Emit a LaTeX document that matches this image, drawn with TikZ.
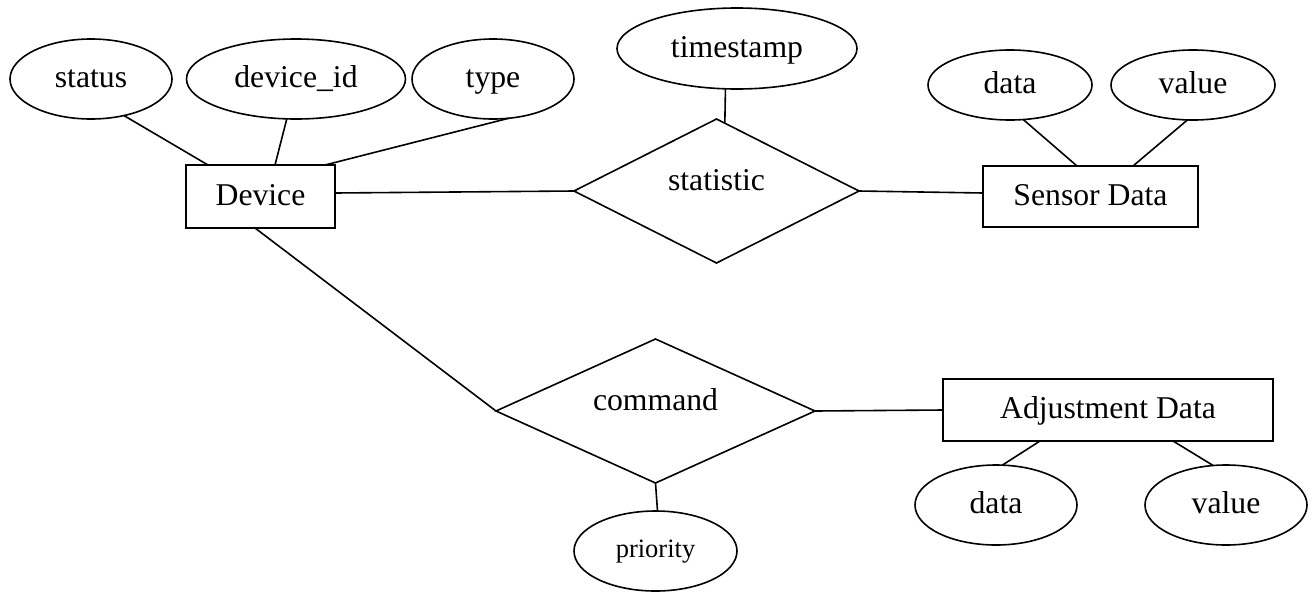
\documentclass[tikz,border=0pt]{standalone}
\usepackage{fontspec}
\setmainfont{Liberation Serif}
\usetikzlibrary{shapes.geometric}
\begin{document}
\begin{tikzpicture}[x=1pt,y=-1pt,
  every node/.style={font=\fontsize{31.7}{38}\selectfont, text height=22pt, text depth=5pt, inner sep=0pt, outer sep=0pt},
  attr/.style={draw, ellipse, line width=1.6pt},
  entity/.style={draw, rectangle, line width=1.6pt},
  rel/.style={draw, diamond, line width=1.6pt},
  link/.style={line width=1.6pt}]
\useasboundingbox (0,0) rectangle (1316,592);

\node[attr, minimum width=162pt, minimum height=80pt] (status) at (91,79) {status};
\node[attr, minimum width=219pt, minimum height=80pt] (devid) at (296,79) {device\_id};
\node[attr, minimum width=162pt, minimum height=80pt] (type) at (493,79) {type};
\node[attr, minimum width=240pt, minimum height=81pt] (ts) at (737,48.5) {timestamp};
\node[attr, minimum width=164pt, minimum height=70pt] (sdata) at (1010,85) {data};
\node[attr, minimum width=164pt, minimum height=70pt] (svalue) at (1193,85) {value};
\node[entity, minimum width=149pt, minimum height=63pt] (device) at (260.5,196.5) {Device};
\node[rel, minimum width=285pt, minimum height=144pt, label={[yshift=9.5pt]center:statistic}] (stat) at (716.5,191) {};
\node[entity, minimum width=215pt, minimum height=61pt] (sensor) at (1090.5,196.5) {Sensor Data};
\node[rel, minimum width=319pt, minimum height=144pt, label={[yshift=9.5pt]center:command}] (cmd) at (655.5,411) {};
\node[entity, minimum width=330pt, minimum height=62pt] (adj) at (1108,410) {Adjustment Data};
\node[attr, minimum width=162pt, minimum height=80pt] (adata) at (996,505) {data};
\node[attr, minimum width=162pt, minimum height=80pt] (avalue) at (1226,505) {value};
\node[attr, minimum width=163pt, minimum height=80pt, font=\fontsize{26.5}{32}\selectfont, text height=18.5pt, text depth=6.5pt] (prio) at (655.5,551) {priority};

\draw[link] (status.-48) -- ([xshift=22pt]device.north west);
\draw[link] (devid.-103.7) -- ([xshift=89pt]device.north west);
\draw[link] (type.-68.2) -- ([xshift=139pt]device.north west);
\draw[link] ([yshift=3.5pt]device.east) -- (stat.west);
\draw[link] (ts.-106.5) -- (stat.83);
\draw[link] (stat.east) -- ([yshift=3.5pt]sensor.west);
\draw[link] (sdata.-69.6) -- ([xshift=94pt]sensor.north west);
\draw[link] (svalue.-99.7) -- ([xshift=150pt]sensor.north west);
\draw[link] ([xshift=-5.5pt]device.south) -- (cmd.west);
\draw[link] (cmd.east) -- (adj.west);
\draw[link] (cmd.south) -- ([xshift=2pt]prio.north);
\draw[link] ([xshift=97pt]adj.south west) -- (adata.81.5);
\draw[link] ([xshift=230pt]adj.south west) -- (avalue.108);
\end{tikzpicture}
\end{document}
